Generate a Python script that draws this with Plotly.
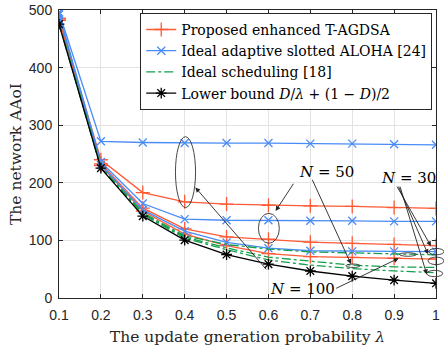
import plotly.graph_objects as go

# update generation probability
lam = [0.1, 0.2, 0.3, 0.4, 0.5, 0.6, 0.7, 0.8, 0.9, 1.0]

# proposed enhanced T-AGDSA
prop_n100 = [486, 240, 183, 167, 163, 161, 160, 159, 157, 155.5]
prop_n50 = [484, 233, 156, 120, 106, 102, 97, 95, 93, 91]
prop_n30 = [482, 230, 151, 111, 91, 77, 72, 70.5, 69, 67.5]

# ideal adaptive slotted ALOHA
aloha_n100 = [496, 272, 270, 269, 269, 269, 268, 268, 267, 266]
aloha_n50 = [494, 236, 164, 137, 135, 135, 134, 134, 133, 133]
aloha_n30 = [492, 231, 153, 116, 96.5, 86.5, 82, 81, 81, 80.5]

# ideal scheduling
sched_n100 = [478, 228, 148, 108, 93, 85, 80, 78, 76, 75]
sched_n50 = [477, 227, 146, 106, 87, 71, 64, 57, 54, 53]
sched_n30 = [476, 226, 145, 104, 84, 66, 57, 51, 47, 44]

# lower bound
lower = [475.5, 225.5, 142.2, 100.5, 75.5, 58.8, 46.9, 38, 31, 25.5]

RED = "#FF5A36"
BLUE = "#4A8CF7"
GREEN = "#12A04C"
SERIF = "DejaVu Serif"

fig = go.Figure()

def add(y, name, color, dash, symbol, msize, show):
    fig.add_trace(go.Scatter(
        x=lam, y=y, name=name, showlegend=show, legendgroup=name,
        mode="lines+markers" if symbol else "lines",
        line=dict(color=color, width=1.3, dash=dash),
        marker=dict(symbol=symbol or "circle", size=msize,
                    line=dict(color=color, width=1.3), color=color)))

pname = "Proposed enhanced T-AGDSA"
aname = "Ideal adaptive slotted ALOHA [24]"
sname = "Ideal scheduling [18]"
lname = "Lower bound <i>D</i>/<i>λ</i> + (1 − <i>D</i>)/2"

for i, y in enumerate([prop_n100, prop_n50, prop_n30]):
    add(y, pname, RED, "solid", "cross-thin", 10, i == 0)
for i, y in enumerate([aloha_n100, aloha_n50, aloha_n30]):
    add(y, aname, BLUE, "solid", "x-thin", 8, i == 0)
for i, y in enumerate([sched_n100, sched_n50, sched_n30]):
    add(y, sname, GREEN, "dashdot", None, 4, i == 0)
add(lower, lname, "black", "solid", "asterisk", 9, True)

# ellipses (x0, x1 in lambda units, y0, y1); x goes through paper coords so the
# ones sitting on the right edge are not clipped by the plot area
ellipses = [
    (0.378, 0.426, 157, 280),
    (0.576, 0.626, 95, 147),
    (0.785, 0.819, 53, 59),
    (0.913, 0.953, 72.5, 78.5),
    (0.983, 1.019, 75, 86),
    (0.981, 1.019, 58, 71),
    (0.978, 1.016, 37, 48),
]
for x0, x1, y0, y1 in ellipses:
    fig.add_shape(type="circle", xref="paper", yref="y",
                  x0=(x0 - 0.1) / 0.9, x1=(x1 - 0.1) / 0.9, y0=y0, y1=y1,
                  line=dict(color="#333333", width=0.9))

# arrows: (head x, head y, tail x, tail y)
arrows = [
    (0.4255, 192, 0.598, 47),
    (0.911, 69, 0.758, 15.5),
    (0.617, 151, 0.662, 201),
    (0.797, 59, 0.703, 208),
    (0.988, 90, 0.905, 196),
    (0.981, 76, 0.909, 196),
    (0.978, 41, 0.913, 196),
]
for hx, hy, tx, ty in arrows:
    fig.add_annotation(x=hx, y=hy, ax=tx, ay=ty, xref="x", yref="y", axref="x", ayref="y",
                       text="", showarrow=True, arrowhead=2, arrowsize=1.1,
                       arrowwidth=0.9, arrowcolor="#222222")

labels = [(0.739, 219, "<i>N</i> = 50"), (0.682, 15.5, "<i>N</i> = 100"), (0.935, 208, "<i>N</i> = 30")]
for x, y, t in labels:
    fig.add_annotation(x=x, y=y, text=t, showarrow=False,
                       font=dict(family=SERIF, size=15, color="black"))

axis_common = dict(showgrid=True, gridcolor="#E3E3E3", gridwidth=1, showline=True,
                   linecolor="#262626", linewidth=1, mirror="ticks", ticks="inside",
                   ticklen=4, tickcolor="#262626", zeroline=False, automargin=False,
                   tickfont=dict(family="Liberation Sans", size=14, color="#262626"))

fig.update_xaxes(range=[0.1, 1], tickvals=lam,
                 ticktext=["0.1", "0.2", "0.3", "0.4", "0.5", "0.6", "0.7", "0.8", "0.9", "1"],
                 ticklabelstandoff=4,
                 title=dict(text="The update gneration probability <i>λ</i>", standoff=9,
                            font=dict(family=SERIF, size=15.5, color="#262626")),
                 **axis_common)
fig.update_yaxes(range=[0, 500], tickvals=[0, 100, 200, 300, 400, 500],
                 ticklabelstandoff=3,
                 title=dict(text="The network AAoI", standoff=3,
                            font=dict(family=SERIF, size=15.5, color="#262626")),
                 **axis_common)

fig.update_layout(
    width=444, height=347,
    margin=dict(l=59, r=8, t=10, b=49),
    plot_bgcolor="white", paper_bgcolor="white",
    legend=dict(x=0.99, y=0.99, xanchor="right", yanchor="top",
                bgcolor="white", bordercolor="#262626", borderwidth=1,
                font=dict(family=SERIF, size=14, color="black"),
                itemwidth=30, tracegroupgap=0),
)

# drop the page's default body margin so the figure sits at the window origin
fig.write_html("out.html", config={"displayModeBar": False},
               post_script="document.body.style.margin='0';")
